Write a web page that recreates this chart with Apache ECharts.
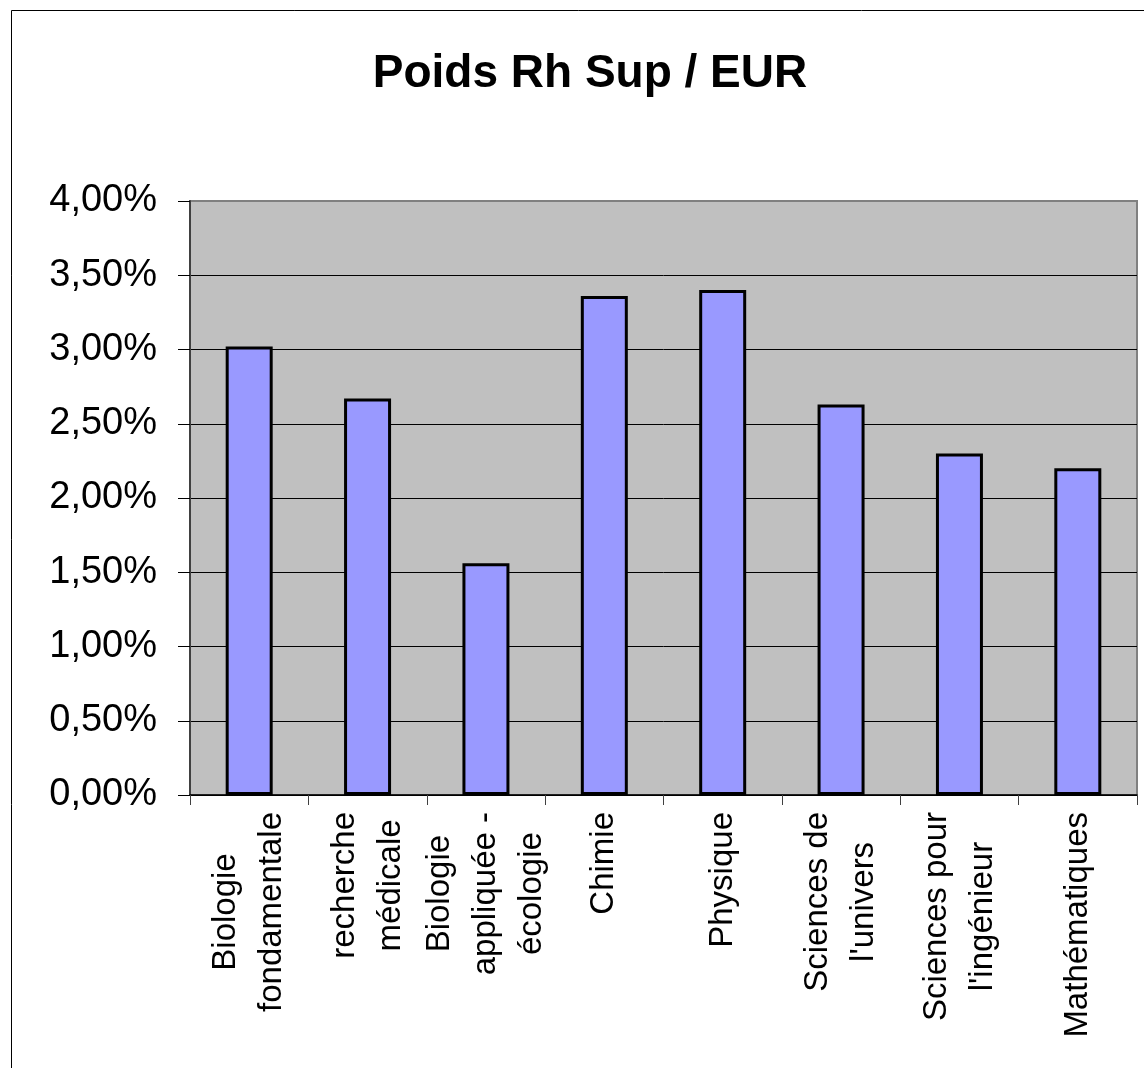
<!DOCTYPE html>
<html>
<head>
<meta charset="utf-8">
<title>Poids Rh Sup / EUR</title>
<script src="https://cdn.jsdelivr.net/npm/echarts@6/dist/echarts.min.js"></script>
<style>
  html, body { margin: 0; padding: 0; background: #fff; }
  #main { width: 1144px; height: 1068px; }
</style>
</head>
<body>
<div id="main"></div>
<script>
// categories (line breaks as in the original chart)
var disciplines = [
    'Biologie\nfondamentale',
    'recherche\nmédicale',
    'Biologie\nappliquée -\nécologie',
    'Chimie',
    'Physique',
    'Sciences de\nl\'univers',
    'Sciences pour\nl\'ingénieur',
    'Mathématiques'
];
// poids en %
var poids = [3.02, 2.67, 1.56, 3.36, 3.40, 2.63, 2.30, 2.20];

var FONT = '"Liberation Sans", Arial, sans-serif';

var myChart = echarts.init(document.getElementById('main'));

var option = {
    backgroundColor: '#fff',
    animation: false,
    title: {
        text: 'Poids Rh Sup / EUR',
        left: 585,
        top: 46,
        textAlign: 'center',
        textStyle: {
            fontFamily: FONT,
            fontSize: 46,
            fontWeight: 'bold',
            color: '#000'
        }
    },
    graphic: [{
        // cadre du graphique
        type: 'rect',
        shape: { x: 11.5, y: 10.5, width: 1300, height: 1300 },
        style: { fill: 'none', stroke: '#000', lineWidth: 1 },
        silent: true
    }],
    grid: {
        left: 190,
        right: 7,
        top: 201,
        bottom: 273,
        show: true,
        backgroundColor: '#C0C0C0',
        borderColor: '#808080',
        borderWidth: 2
    },
    xAxis: {
        type: 'category',
        data: disciplines,
        axisLine: { lineStyle: { color: '#000', width: 1.5 } },
        axisTick: { show: true, length: 10, lineStyle: { color: '#404040', width: 1 } },
        axisLabel: {
            interval: 0,
            rotate: 90,
            margin: 17,
            color: '#000',
            fontFamily: FONT,
            fontSize: 33,
            formatter: function (v) {
                return v.split('\n').map(function (s) { return '{c|' + s + '}'; }).join('\n');
            },
            rich: {
                c: { align: 'center', fontFamily: FONT, fontSize: 33, lineHeight: 46, color: '#000' }
            }
        }
    },
    yAxis: {
        type: 'value',
        min: 0,
        max: 4,
        interval: 0.5,
        axisLine: { show: true, lineStyle: { color: '#404040', width: 2 } },
        axisTick: { show: true, length: 12, lineStyle: { color: '#000', width: 1 } },
        axisLabel: {
            margin: 33,
            color: '#000',
            fontFamily: FONT,
            fontSize: 38,
            formatter: function (v) { return v.toFixed(2).replace('.', ',') + '%'; }
        },
        splitLine: { show: true, showMaxLine: false, lineStyle: { color: '#000', width: 1 } }
    },
    series: [{
        type: 'bar',
        data: poids,
        barWidth: 47,
        itemStyle: {
            color: '#9999FF',
            borderColor: '#000',
            borderWidth: 3
        }
    }]
};

myChart.setOption(option);
</script>
</body>
</html>
